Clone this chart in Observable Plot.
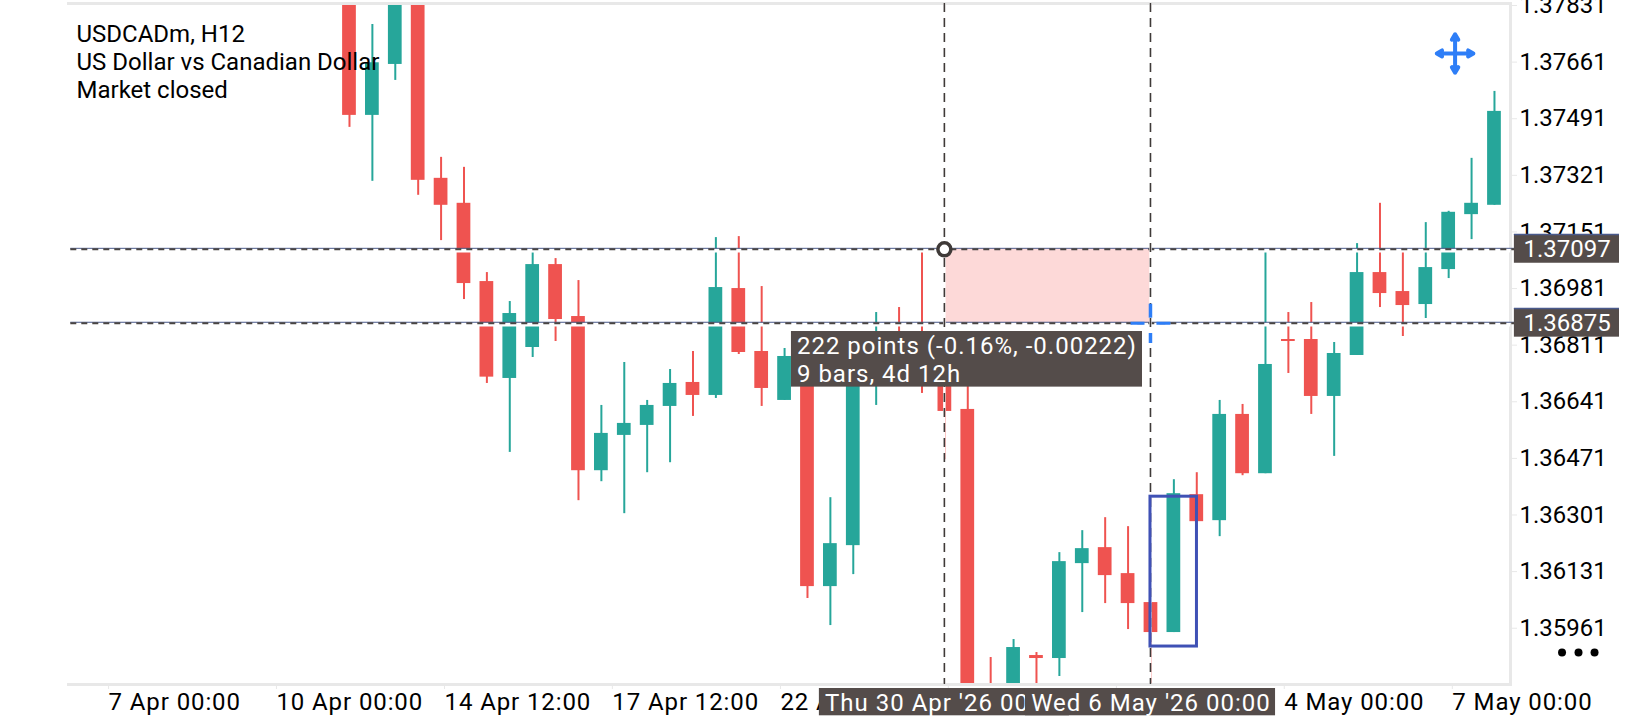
<!DOCTYPE html>
<html><head><meta charset="utf-8">
<script src="https://cdn.jsdelivr.net/npm/d3@7"></script>
<script src="https://cdn.jsdelivr.net/npm/@observablehq/plot@0.6"></script>
<style>html,body{margin:0;padding:0;background:#fff;overflow:hidden}
g[aria-label="x-axis tick label"] text{letter-spacing:.9px}
</style>
</head><body><div id="chart"></div>
<script>
const opens = [1.38020,1.37501,1.37654,1.38000,1.37312,1.37237,1.37002,1.36711,1.36804,1.37053,1.36897,1.36434,1.36540,1.36570,1.36627,1.36699,1.36660,1.36981,1.36792,1.36645,1.36825,1.36086,1.36209,1.36720,1.36825,1.36825,1.36810,1.36618,1.35744,1.35714,1.35879,1.35870,1.36155,1.36203,1.36125,1.36038,1.35948,1.36362,1.36284,1.36603,1.36425,1.36828,1.36828,1.36657,1.36780,1.37029,1.36972,1.36933,1.37038,1.37203,1.37231];
const closes = [1.37501,1.37659,1.38000,1.37306,1.37231,1.36996,1.36715,1.36906,1.37053,1.36888,1.36434,1.36546,1.36576,1.36630,1.36696,1.36660,1.36984,1.36789,1.36681,1.36777,1.36086,1.36215,1.36810,1.36825,1.36720,1.36705,1.36612,1.35683,1.35699,1.35903,1.35870,1.36161,1.36200,1.36119,1.36035,1.35948,1.36365,1.36281,1.36603,1.36425,1.36753,1.36822,1.36657,1.36786,1.37029,1.36966,1.36930,1.37044,1.37210,1.37237,1.37513];
const highs = [1.38040,1.37774,1.38020,1.38020,1.37375,1.37345,1.37029,1.36942,1.37089,1.37071,1.37005,1.36630,1.36759,1.36645,1.36738,1.36792,1.37134,1.37137,1.36987,1.36801,1.36840,1.36353,1.36825,1.36909,1.36924,1.37092,1.36840,1.36720,1.35873,1.35927,1.35888,1.36188,1.36254,1.36293,1.36266,1.36038,1.36407,1.36428,1.36645,1.36633,1.37092,1.36909,1.36939,1.36819,1.37116,1.37237,1.37101,1.37179,1.37213,1.37372,1.37573];
const lows = [1.37465,1.37303,1.37606,1.37261,1.37125,1.36948,1.36696,1.36489,1.36774,1.36822,1.36344,1.36401,1.36305,1.36428,1.36458,1.36597,1.36651,1.36783,1.36627,1.36645,1.36050,1.35969,1.36122,1.36630,1.36696,1.36666,1.36467,1.35660,1.35680,1.35690,1.35744,1.35816,1.36008,1.36035,1.35957,1.35744,1.35948,1.36281,1.36236,1.36419,1.36425,1.36726,1.36603,1.36477,1.36780,1.36924,1.36837,1.36891,1.37011,1.37128,1.37231];

const priceTicks = [1.37831,1.37661,1.37491,1.37321,1.37151,1.36981,1.36811,1.36641,1.36471,1.36301,1.36131,1.35961];
const timeTicks = [-10.52,-3.19,4.15,11.48,18.82,26.15,33.49,40.82,48.16];
const timeLabels = ["7 Apr 00:00","10 Apr 00:00","14 Apr 12:00","17 Apr 12:00","22 Apr 00:00","27 Apr 12:00","30 Apr 12:00","4 May 00:00","7 May 00:00"];

const levelPrices = [1.37097,1.36875];
const levelLabels = ["1.37097","1.36875"];
const startBar = 26, endBar = 35;
const dateTags = ["Thu 30 Apr '26 00:00","Wed 6 May '26 00:00"];
const infoLines = ["USDCADm, H12","US Dollar vs Canadian Dollar","Market closed"];
const measureLines = ["222 points (-0.16%, -0.00222)","9 bars, 4d 12h"];

const UP = "#26a69a", DOWN = "#ef5350", TAG = "#544c4a", FONT = "Roboto", BLUE = "#2e7ef7", LINE = "#4a5a8c", BORDER = "#e8e8e8";

const bars = opens.map((o,i)=>({i,o,c:closes[i],h:highs[i],l:lows[i],col:closes[i]>=o?UP:DOWN}));
const xDomain = [-12.27,50.7], yDomain = [1.35792,1.37837];
const cx = 48.28, cy = 1.37687;
const moveArrows = [
  {x1:cx,y1:cy,x2:cx+0.8,y2:cy},{x1:cx,y1:cy,x2:cx-0.8,y2:cy},
  {x1:cx,y1:cy,x2:cx,y2:cy+0.00058},{x1:cx,y1:cy,x2:cx,y2:cy-0.00058}
];
const tags = levelPrices.map((p,k)=>({p,label:levelLabels[k],top:p+0.00046,bot:p-0.00040}));

const chart = Plot.plot({
  width:1640,height:720,
  marginLeft:68,marginRight:130,marginTop:3,marginBottom:36,
  style:{fontFamily:FONT,fontSize:"24px",background:"#fff",color:"#000"},
  x:{domain:xDomain,axis:null},
  y:{domain:yDomain,axis:null},
  marks:[
    Plot.ruleX(bars,{x:"i",y1:"l",y2:"h",stroke:"col",strokeWidth:2,clip:true}),
    Plot.rect(bars,{x1:d=>d.i-0.3,x2:d=>d.i+0.3,y1:"o",y2:"c",fill:"col",clip:true}),
    Plot.text([infoLines.join("\n")],{text:d=>d,frameAnchor:"top-left",dx:8,dy:19,textAnchor:"start",lineAnchor:"top",lineHeight:1.167,fontSize:24,fontFamily:FONT,fill:"#000"}),
    Plot.frame({anchor:"top",stroke:BORDER,strokeWidth:3}),
    Plot.frame({anchor:"bottom",stroke:BORDER,strokeWidth:3}),
    Plot.frame({anchor:"right",stroke:BORDER,strokeWidth:3}),
    Plot.ruleY(levelPrices,{x1:xDomain[0]+0.1,x2:xDomain[1],stroke:"#fff",strokeWidth:4,dy:0.6}),
    Plot.rect([{x1:startBar,x2:endBar,y1:levelPrices[0],y2:levelPrices[1]}],{x1:"x1",x2:"x2",y1:"y1",y2:"y2",fill:"#fdd9d8",dy:-1,dx:-0.5}),
    Plot.ruleY(levelPrices,{x1:xDomain[0]+0.1,x2:51,stroke:LINE,strokeWidth:1,dy:-1.6}),
    Plot.ruleY(levelPrices,{x1:xDomain[0]+0.1,x2:51,stroke:"#4a4543",strokeWidth:2,strokeDasharray:"6,5",dy:-0.6}),
    Plot.ruleX([startBar,endBar],{stroke:"#fff",strokeWidth:2.5,dx:-0.5}),
    Plot.ruleX([startBar,endBar],{stroke:"#3f3a38",strokeWidth:1.6,strokeDasharray:"9,6",dx:-0.5}),
    Plot.rect([{x1:endBar,x2:37.03,y1:1.35906,y2:1.36356}],{x1:"x1",x2:"x2",y1:"y1",y2:"y2",fill:"none",stroke:"#3f51b5",strokeWidth:3,dx:-0.5}),
    Plot.ruleY([levelPrices[1]],{x1:34.13,x2:34.74,stroke:BLUE,strokeWidth:3,dy:-0.6}),
    Plot.ruleY([levelPrices[1]],{x1:35.26,x2:35.87,stroke:BLUE,strokeWidth:3,dy:-0.6}),
    Plot.ruleX([endBar],{y1:1.36934,y2:1.36892,stroke:BLUE,strokeWidth:3.5,dx:-0.5}),
    Plot.ruleX([endBar],{y1:1.36846,y2:1.36816,stroke:BLUE,strokeWidth:3.5,dx:-0.5}),
    Plot.rect([{x1:19.3,x2:34.63,y1:1.36852,y2:1.36685}],{x1:"x1",x2:"x2",y1:"y1",y2:"y2",fill:TAG}),
    Plot.text([measureLines.join("\n")],{text:d=>d,x:19.54,y:1.36768,textAnchor:"start",lineHeight:1.167,fontSize:24,fontFamily:FONT,fill:"#fff"}),
    Plot.axisY({anchor:"right",ticks:priceTicks,tickFormat:d3.format(".5f"),tickSize:6,tickPadding:3,stroke:BORDER,fill:"#000",fontSize:24,fontFamily:FONT,label:null}),
    Plot.axisX({anchor:"bottom",ticks:timeTicks,tickFormat:(d,i)=>timeLabels[timeTicks.indexOf(d)],tickSize:5,tickPadding:3,stroke:BORDER,fill:"#000",textAnchor:"start",fontSize:24,fontFamily:FONT,label:null}),
    Plot.rect(tags,{x1:50.87,x2:55.46,y1:"top",y2:"bot",fill:TAG}),
    Plot.ruleY(tags,{y:"top",x1:50.87,x2:55.46,stroke:LINE,strokeWidth:1.5}),
    Plot.text(tags,{x:53.17,y:"p",text:"label",fill:"#fff",fontSize:24,fontFamily:FONT,dy:-0.5}),
    Plot.rect([{x1:20.52,x2:31.44}],{x1:"x1",x2:"x2",y1:1.35780,y2:1.35698,fill:TAG}),
    Plot.text([dateTags[0]],{text:d=>d,x:startBar,y:1.35739,fill:"#fff",fontSize:24,fontFamily:FONT,dy:1}),
    Plot.rect([{x1:29.52,x2:40.44}],{x1:"x1",x2:"x2",y1:1.35780,y2:1.35698,fill:TAG}),
    Plot.text([dateTags[1]],{text:d=>d,x:endBar,y:1.35739,fill:"#fff",fontSize:24,fontFamily:FONT,dy:1}),
    Plot.dot([{x:startBar,y:levelPrices[0]}],{x:"x",y:"y",r:6.5,fill:"#fff",stroke:"#3f3a38",strokeWidth:3.5,dy:-0.6,dx:-0.5}),
    Plot.arrow(moveArrows,{x1:"x1",y1:"y1",x2:"x2",y2:"y2",stroke:BLUE,strokeWidth:4,headLength:12,bend:0}),
    Plot.dot([52.95,53.67,54.37],{x:d=>d,y:()=>1.35888,r:4,fill:"#000",stroke:"none"})
  ]
});
document.getElementById("chart").appendChild(chart);
const spaced = [...dateTags, ...measureLines];
d3.select(chart).selectAll("text").filter(function(){
  return spaced.some(s => this.textContent.includes(s));
}).style("letter-spacing","1px");
</script></body></html>
